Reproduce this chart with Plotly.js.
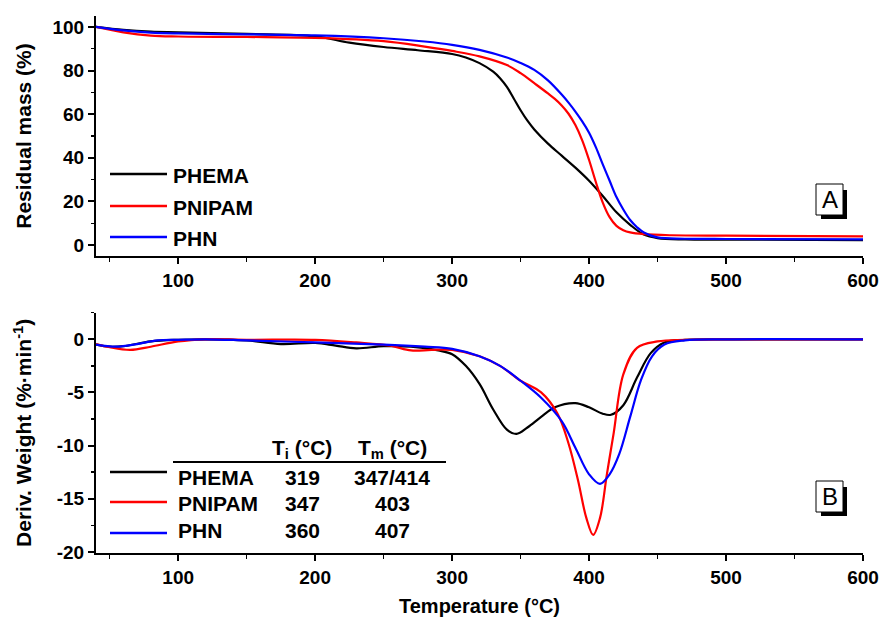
<!DOCTYPE html>
<html>
<head>
<meta charset="utf-8">
<script src="https://cdn.plot.ly/plotly-3.0.1.min.js"></script>
<style>html,body{margin:0;padding:0;background:#fff;}#chart{width:882px;height:619px;}</style>
</head>
<body>
<div id="chart"></div>
<script>
// ---------- DATA ----------
var seriesNames = ['PHEMA', 'PNIPAM', 'PHN'];
var seriesColors = ['#000000', '#ff0000', '#0000ff'];
var tiValues = ['319', '347', '360'];
var tmValues = ['347/414', '403', '407'];

// Panel A: residual mass (%)
var tgaT_PHEMA = [40, 60, 80, 100, 150, 200, 225, 250, 275, 300, 310, 320, 330, 335, 340, 345, 350, 355, 360, 370, 380, 390, 400, 410, 420, 430, 440, 450, 470, 500, 600];
var tga_PHEMA  = [100, 98.6, 97.8, 97.5, 96.8, 95.7, 92.8, 90.8, 89.3, 87.6, 86.0, 83.4, 79.5, 76.5, 72.5, 67.2, 61.8, 57.0, 53.0, 46.5, 41.0, 35.5, 29.5, 22.5, 15.0, 9.3, 4.8, 3.2, 2.6, 2.5, 2.3];

var tgaT_PNIPAM = [40, 60, 80, 100, 150, 200, 250, 280, 300, 320, 340, 350, 360, 370, 375, 380, 385, 390, 395, 400, 405, 410, 415, 420, 425, 430, 440, 460, 500, 600];
var tga_PNIPAM  = [100, 97.5, 96.0, 95.6, 95.4, 95.0, 93.5, 91.0, 89.0, 86.5, 82.5, 78.8, 74.2, 69.5, 67.0, 64.0, 60.2, 55.0, 48.0, 39.0, 28.8, 19.5, 12.8, 8.8, 6.8, 5.8, 5.0, 4.5, 4.3, 4.0];

var tgaT_PHN = [40, 60, 80, 100, 150, 200, 250, 280, 300, 320, 340, 350, 360, 370, 380, 385, 390, 395, 400, 405, 410, 415, 420, 425, 430, 435, 440, 450, 470, 500, 600];
var tga_PHN  = [100, 98.4, 97.4, 97.0, 96.6, 96.1, 94.8, 93.3, 91.8, 89.5, 86.0, 83.5, 80.3, 75.5, 69.0, 65.3, 61.2, 56.7, 51.5, 44.8, 37.0, 29.5, 22.0, 16.3, 11.5, 8.2, 5.8, 3.5, 2.9, 2.8, 2.6];

// Panel B: derivative weight (%/min)
var dtgT_PHEMA = [40, 50, 60, 80, 100, 120, 150, 175, 200, 215, 230, 250, 270, 290, 300, 310, 320, 330, 340, 347, 355, 365, 375, 390, 400, 410, 416, 425, 435, 445, 455, 470, 500, 600];
var dtg_PHEMA  = [-0.5, -0.7, -0.65, -0.2, -0.05, 0, -0.1, -0.45, -0.35, -0.6, -0.85, -0.65, -0.7, -1.05, -1.4, -2.5, -4.2, -6.6, -8.5, -8.9, -8.3, -7.3, -6.4, -6.0, -6.4, -7.0, -7.1, -6.2, -3.6, -1.3, -0.3, -0.05, 0, 0];

var dtgT_PNIPAM = [40, 50, 65, 80, 100, 120, 150, 200, 230, 255, 270, 285, 300, 320, 335, 350, 365, 377, 385, 392, 398, 403, 408, 413, 418, 425, 435, 450, 470, 500, 600];
var dtg_PNIPAM  = [-0.45, -0.75, -1.0, -0.7, -0.2, 0, -0.05, -0.05, -0.3, -0.6, -1.05, -1.0, -1.0, -1.6, -2.5, -3.9, -5.0, -7.0, -9.8, -13.3, -16.8, -18.4, -16.8, -12.7, -8.8, -3.3, -0.8, -0.2, -0.05, 0, 0];

var dtgT_PHN = [40, 55, 70, 85, 100, 120, 150, 200, 250, 280, 300, 320, 335, 350, 365, 380, 390, 400, 408, 415, 422, 430, 438, 446, 455, 470, 500, 600];
var dtg_PHN  = [-0.5, -0.7, -0.45, -0.1, -0.05, 0, -0.1, -0.3, -0.5, -0.7, -0.9, -1.6, -2.5, -3.9, -5.5, -7.7, -10.2, -12.7, -13.6, -12.7, -10.8, -7.3, -3.8, -1.6, -0.5, -0.1, 0, 0];

var dtgTickVals = [0, -5, -10, -15, -20];
var dtgTickText = ['0', '-5', '-10', '-15', '-20'];
var dtgMinorVals = [2.5, -2.5, -7.5, -12.5, -17.5];

// ---------- TRACES ----------
var tgaX = [tgaT_PHEMA, tgaT_PNIPAM, tgaT_PHN];
var tgaY = [tga_PHEMA, tga_PNIPAM, tga_PHN];
var dtgX = [dtgT_PHEMA, dtgT_PNIPAM, dtgT_PHN];
var dtgY = [dtg_PHEMA, dtg_PNIPAM, dtg_PHN];

var traces = [];
for (var i = 0; i < 3; i++) {
  traces.push({x: tgaX[i], y: tgaY[i], xaxis: 'x', yaxis: 'y', mode: 'lines', name: seriesNames[i],
    line: {color: seriesColors[i], width: 2.2, shape: 'spline', smoothing: 1}, showlegend: false, hoverinfo: 'skip'});
}
for (var i = 0; i < 3; i++) {
  traces.push({x: dtgX[i], y: dtgY[i], xaxis: 'x2', yaxis: 'y2', mode: 'lines', name: seriesNames[i],
    line: {color: seriesColors[i], width: 2.2, shape: 'spline', smoothing: 1}, showlegend: false, hoverinfo: 'skip'});
}

// ---------- LAYOUT ----------
var FONT = 'Liberation Sans, Arial, Helvetica, sans-serif';
var W = 882, H = 619, ML = 96, MR = 19, MT = 16, MB = 66;
var PW = W - ML - MR, PH = H - MT - MB;
function px(x) { return (x - ML) / PW; }
function py(y) { return (H - MB - y) / PH; }

var axisCommon = {
  showline: true, linecolor: '#000', linewidth: 2, mirror: false,
  showgrid: false, zeroline: false,
  ticks: 'outside', ticklen: 6, tickwidth: 2, tickcolor: '#000',
  tickfont: {family: FONT, size: 19, color: '#000', weight: 'bold'}
};
function merge(a, b) { var o = {}; for (var k in a) o[k] = a[k]; for (var k in b) o[k] = b[k]; return o; }

var shapes = [];
var annotations = [];
var LFONT = {family: FONT, size: 21, color: '#000', weight: 'bold'};

// top legend
var topLineY = [174, 206, 237];
for (var i = 0; i < 3; i++) {
  shapes.push({type: 'line', xref: 'paper', yref: 'paper', x0: px(110), x1: px(167), y0: py(topLineY[i]), y1: py(topLineY[i]),
    line: {color: seriesColors[i], width: 2.5}});
  annotations.push({xref: 'paper', yref: 'paper', x: px(171), y: py(topLineY[i] + 1.5), xanchor: 'left', yanchor: 'middle',
    text: seriesNames[i], showarrow: false, font: LFONT});
}
// bottom legend / table
var botLineY = [472, 502, 533];
var botTextY = [476.5, 503, 529.5];
for (var i = 0; i < 3; i++) {
  shapes.push({type: 'line', xref: 'paper', yref: 'paper', x0: px(110), x1: px(167), y0: py(botLineY[i]), y1: py(botLineY[i]),
    line: {color: seriesColors[i], width: 2.5}});
  annotations.push({xref: 'paper', yref: 'paper', x: px(176), y: py(botTextY[i] + 0.5), xanchor: 'left', yanchor: 'middle',
    text: seriesNames[i], showarrow: false, font: LFONT});
  annotations.push({xref: 'paper', yref: 'paper', x: px(302), y: py(botTextY[i] + 0.5), xanchor: 'center', yanchor: 'middle',
    text: tiValues[i], showarrow: false, font: LFONT});
  annotations.push({xref: 'paper', yref: 'paper', x: px(392), y: py(botTextY[i] + 0.5), xanchor: 'center', yanchor: 'middle',
    text: tmValues[i], showarrow: false, font: LFONT});
}
annotations.push({xref: 'paper', yref: 'paper', x: px(302), y: py(449), xanchor: 'center', yanchor: 'middle',
  text: 'T<sub>i</sub> (°C)', showarrow: false, font: LFONT});
annotations.push({xref: 'paper', yref: 'paper', x: px(392), y: py(449), xanchor: 'center', yanchor: 'middle',
  text: 'T<sub>m</sub> (°C)', showarrow: false, font: LFONT});
shapes.push({type: 'line', xref: 'paper', yref: 'paper', x0: px(173), x1: px(446), y0: py(462), y1: py(462),
  line: {color: '#000', width: 2}});

// panel label boxes
function labelBox(letter, x0, y0, x1, y1) {
  shapes.push({type: 'rect', xref: 'paper', yref: 'paper', x0: px(x0 + 5), x1: px(x1 + 4), y0: py(y1 + 4), y1: py(y0 + 6),
    fillcolor: '#000', line: {width: 0}});
  shapes.push({type: 'rect', xref: 'paper', yref: 'paper', x0: px(x0), x1: px(x1), y0: py(y1), y1: py(y0),
    fillcolor: '#fff', line: {color: '#000', width: 1}});
  annotations.push({xref: 'paper', yref: 'paper', x: px((x0 + x1) / 2), y: py((y0 + y1) / 2), xanchor: 'center', yanchor: 'middle',
    text: letter, showarrow: false, font: {family: FONT, size: 24, color: '#000'}});
}
labelBox('A', 816, 184, 843, 215);
labelBox('B', 816, 481, 843, 512);

var layout = {
  width: W, height: H,
  margin: {l: ML, r: MR, t: MT, b: MB},
  paper_bgcolor: '#fff', plot_bgcolor: '#fff',
  font: {family: FONT, color: '#000'},
  showlegend: false,
  xaxis: merge(axisCommon, {domain: [0, 1], anchor: 'y', range: [40, 600], tick0: 0, dtick: 100,
    minor: {dtick: 50, tick0: 0, ticks: 'outside', ticklen: 3.5, tickwidth: 1.5, tickcolor: '#000'}}),
  yaxis: merge(axisCommon, {domain: [py(256), 1], anchor: 'x', range: [-5, 105], tick0: 0, dtick: 20,
    minor: {dtick: 10, tick0: 0, ticks: 'outside', ticklen: 3.5, tickwidth: 1.5, tickcolor: '#000'},
    title: {text: 'Residual mass (%)', standoff: 15, font: {family: FONT, size: 21, color: '#000', weight: 'bold'}}}),
  xaxis2: merge(axisCommon, {domain: [0, 1], anchor: 'y2', range: [40, 600], tick0: 0, dtick: 100,
    minor: {dtick: 50, tick0: 0, ticks: 'outside', ticklen: 3.5, tickwidth: 1.5, tickcolor: '#000'},
    title: {text: 'Temperature (°C)', standoff: 12, font: {family: FONT, size: 20, color: '#000', weight: 'bold'}}}),
  yaxis2: merge(axisCommon, {domain: [0, py(312.7)], anchor: 'x2', range: [-20.1, 2.5],
    tickmode: 'array', tickvals: dtgTickVals, ticktext: dtgTickText,
    minor: {tickmode: 'array', tickvals: dtgMinorVals, ticks: 'outside', ticklen: 3.5, tickwidth: 1.5, tickcolor: '#000'},
    title: {text: 'Deriv. Weight (%·min<sup>-1</sup>)', standoff: 19, font: {family: FONT, size: 21, color: '#000', weight: 'bold'}}}),
  shapes: shapes,
  annotations: annotations
};

Plotly.newPlot('chart', traces, layout, {staticPlot: true, displayModeBar: false});
</script>
</body>
</html>
